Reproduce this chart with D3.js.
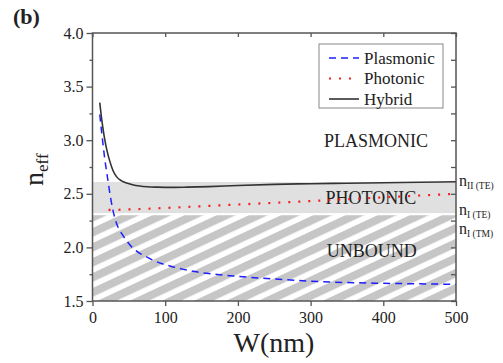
<!DOCTYPE html>
<html>
<head>
<meta charset="utf-8">
<script src="https://cdn.jsdelivr.net/npm/d3@7"></script>
<style>
  body { margin: 0; background: #fff; }
  svg, svg text { font-family: "Liberation Serif", "Times New Roman", serif; }
  svg text { fill: #222; }
  .frame { fill: none; stroke: #555; stroke-width: 1.5; }
  .tick line { stroke: #555; stroke-width: 1.3; }
  .line { fill: none; }
</style>
</head>
<body>
<div id="chart"></div>
<script>
// width (nm) and effective index
const hybridW = [10, 12, 14, 17, 20, 24, 28, 33, 40, 47, 55, 65, 75, 90, 110, 130, 160, 200, 250, 300, 350, 400, 450, 500]
const hybridN = [3.35, 3.23, 3.13, 3.0, 2.9, 2.8, 2.72, 2.66, 2.62, 2.6, 2.585, 2.573, 2.566, 2.562, 2.56, 2.562, 2.567, 2.578, 2.588, 2.594, 2.599, 2.603, 2.608, 2.612]

const plasmonicW = [10, 13, 17, 20, 24, 28, 33, 40, 45, 56, 65, 75, 85, 97, 110, 125, 140, 157, 175, 194, 217, 250, 300, 350, 400, 450, 500]
const plasmonicN = [3.24, 3.05, 2.82, 2.68, 2.5, 2.35, 2.225, 2.13, 2.08, 1.99, 1.945, 1.91, 1.875, 1.845, 1.82, 1.795, 1.775, 1.758, 1.745, 1.733, 1.72, 1.705, 1.685, 1.672, 1.665, 1.66, 1.655]

const photonicW = [22, 30, 50, 75, 100, 150, 200, 250, 300, 350, 400, 450, 500]
const photonicN = [2.35, 2.35, 2.355, 2.36, 2.368, 2.384, 2.4, 2.416, 2.432, 2.45, 2.467, 2.484, 2.5]

// cladding / substrate indices bounding the regions
const nIITE = 2.61
const nITE = 2.32
const nITM = 2.30

const xTicks = [0, 100, 200, 300, 400, 500]
const yTicks = [1.5, 2.0, 2.5, 3.0, 3.5, 4.0]
const yMinorTicks = [1.75, 2.25, 2.75, 3.25, 3.75]

const serif = '"Liberation Serif", "Times New Roman", serif'

const margin = { top: 33, right: 47, bottom: 62, left: 92.5 }
const width = 503 - margin.left - margin.right
const height = 363 - margin.top - margin.bottom

const x = d3.scaleLinear().domain([0, 500]).range([0, width])
const y = d3.scaleLinear().domain([1.5, 4.0]).range([height, 0])

const line = d3.line()
  .x(d => x(d[0]))
  .y(d => y(d[1]))
  .curve(d3.curveMonotoneX)

const zip = (a, b) => a.map((v, i) => [v, b[i]])

const svg = d3.select("#chart").append("svg")
  .attr("width", 503)
  .attr("height", 363)
  .attr("font-family", serif)

const defs = svg.append("defs")
const pat = defs.append("pattern")
  .attr("id", "hatch")
  .attr("patternUnits", "userSpaceOnUse")
  .attr("width", 20)
  .attr("height", 13.6)
  .attr("patternTransform", "rotate(-25)")
pat.append("rect").attr("width", 20).attr("height", 13.6).attr("fill", "#fff")
pat.append("rect").attr("y", 0).attr("width", 20).attr("height", 8).attr("fill", "#c6c6c6")

defs.append("clipPath").attr("id", "clip")
  .append("rect").attr("width", width).attr("height", height)

const g = svg.append("g")
  .attr("transform", "translate(" + margin.left + "," + margin.top + ")")

// regions
g.append("rect")
  .attr("x", 0).attr("y", y(nIITE))
  .attr("width", width).attr("height", y(nITE) - y(nIITE))
  .attr("fill", "#e0e0e0")

g.append("rect")
  .attr("x", 0).attr("y", y(nITM))
  .attr("width", width).attr("height", height - y(nITM))
  .attr("fill", "url(#hatch)")

// region labels
const regionLabels = [
  { text: "PLASMONIC", w: 390, n: 2.94 },
  { text: "PHOTONIC", w: 383, n: 2.405 },
  { text: "UNBOUND", w: 384, n: 1.91 }
]
g.selectAll(".region").data(regionLabels).enter().append("text")
  .attr("class", "region")
  .attr("x", d => x(d.w))
  .attr("y", d => y(d.n))
  .attr("text-anchor", "middle")
  .style("font-size", "18px")
  .text(d => d.text)

// curves
const curves = g.append("g").attr("clip-path", "url(#clip)")

curves.append("path")
  .datum(zip(photonicW, photonicN))
  .attr("class", "line")
  .attr("stroke", "#f02020")
  .attr("stroke-width", 2.2)
  .attr("stroke-dasharray", "2,8")
  .attr("d", line)

curves.append("path")
  .datum(zip(plasmonicW, plasmonicN))
  .attr("class", "line")
  .attr("stroke", "#1f1fff")
  .attr("stroke-width", 1.5)
  .attr("stroke-dasharray", "7,5")
  .attr("d", line)

curves.append("path")
  .datum(zip(hybridW, hybridN))
  .attr("class", "line")
  .attr("stroke", "#333")
  .attr("stroke-width", 1.6)
  .attr("d", line)

// axes
const axBottom = g.append("g")
  .attr("transform", "translate(0," + height + ")")
  .call(d3.axisBottom(x).tickValues(xTicks).tickSize(5).tickPadding(6).tickFormat(d3.format("d")))
const axTop = g.append("g")
  .call(d3.axisTop(x).tickValues(xTicks).tickSize(-4).tickFormat(""))
const axLeft = g.append("g")
  .call(d3.axisLeft(y).tickValues(yTicks).tickSize(6).tickPadding(3).tickFormat(d3.format(".1f")))
const axLeftMinor = g.append("g")
  .call(d3.axisLeft(y).tickValues(yMinorTicks).tickSize(3).tickFormat(""))
const axRight = g.append("g")
  .attr("transform", "translate(" + width + ",0)")
  .call(d3.axisRight(y).tickValues(yTicks.concat(yMinorTicks)).tickSize(-5).tickFormat(""))

;[axBottom, axTop, axLeft, axLeftMinor, axRight].forEach(a => {
  a.attr("font-family", serif)
  a.select(".domain").remove()
  a.selectAll("text").style("font-size", "16px").style("font-family", serif).attr("fill", "#222")
})

g.append("rect")
  .attr("class", "frame")
  .attr("width", width)
  .attr("height", height)

// right-hand index labels
const rightLabels = [
  { main: "n", sub: "II (TE)", n: nIITE, dy: 4 },
  { main: "n", sub: "I (TE)", n: nITE, dy: 1.5 },
  { main: "n", sub: "I (TM)", n: nITM, dy: 19 }
]
rightLabels.forEach(d => {
  const t = g.append("text")
    .attr("x", width + 3)
    .attr("y", y(d.n) + d.dy)
    .style("font-size", "16px")
  t.append("tspan").text(d.main)
  t.append("tspan").attr("dy", 3).style("font-size", "9.5px").text(d.sub)
})

// axis titles
svg.append("text")
  .attr("x", 274)
  .attr("y", 352)
  .attr("text-anchor", "middle")
  .style("font-size", "28px")
  .text("W(nm)")

const yt = svg.append("text")
  .attr("transform", "translate(43,186) rotate(-90)")
  .style("font-size", "28px")
yt.append("tspan").text("n")
yt.append("tspan").attr("dy", 5).style("font-size", "17px").text("eff")

svg.append("text")
  .attr("x", 13)
  .attr("y", 24)
  .style("font-size", "22px")
  .style("font-weight", "bold")
  .text("(b)")

// legend
const legendItems = [
  { label: "Plasmonic", color: "#1f1fff", dash: "7,5", width: 1.5 },
  { label: "Photonic", color: "#f02020", dash: "2,8", width: 2.2 },
  { label: "Hybrid", color: "#333", dash: null, width: 1.6 }
]
const legend = svg.append("g").attr("transform", "translate(319,44)")
legend.append("rect")
  .attr("width", 124).attr("height", 64)
  .attr("fill", "#fff").attr("stroke", "#888").attr("stroke-width", 1)
const li = legend.selectAll(".li").data(legendItems).enter().append("g")
  .attr("transform", (d, i) => "translate(0," + (14 + i * 20.5) + ")")
li.append("line")
  .attr("x1", 10).attr("x2", 40)
  .attr("stroke", d => d.color)
  .attr("stroke-width", d => d.width)
  .attr("stroke-dasharray", d => d.dash)
li.append("text")
  .attr("x", 45).attr("y", 5.5)
  .style("font-size", "17px")
  .text(d => d.label)
</script>
</body>
</html>
